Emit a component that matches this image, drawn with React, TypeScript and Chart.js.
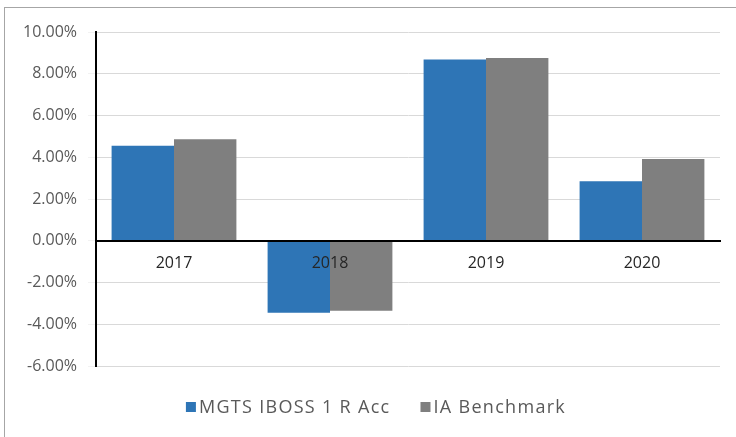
import React, { useEffect, useRef } from "react";
import { Chart, registerables } from "chart.js";

Chart.register(...registerables);

const categories = ["2017", "2018", "2019", "2020"];
const fundValues = [4.55, -3.45, 8.68, 2.85];
const benchmarkValues = [4.86, -3.35, 8.75, 3.92];
const seriesNames = ["MGTS IBOSS 1 R Acc", "IA Benchmark"];
const seriesColors = ["#2E75B6", "#7F7F7F"];
const yMin = -6;
const yMax = 10;
const yStep = 2;

const legendPlugin = {
  id: "customLegend",
  afterDraw(chart: any) {
    const ctx = chart.ctx;
    const ds = chart.data.datasets;
    ctx.save();
    ctx.font = "18px 'Open Sans'";
    (ctx as any).letterSpacing = "1.3px";
    ctx.textBaseline = "middle";
    const box = 10;
    const gapBox = 3;
    const gapItem = 30;
    const widths = ds.map((d: any) => box + gapBox + ctx.measureText(d.label).width);
    const total = widths.reduce((a: number, b: number) => a + b, 0) + gapItem * (ds.length - 1);
    let x = chart.width / 2 + 8 - total / 2;
    const y = 408;
    ds.forEach((d: any, i: number) => {
      ctx.fillStyle = d.backgroundColor;
      ctx.fillRect(x, y - box / 2 - 1, box, box);
      ctx.fillStyle = "#595959";
      ctx.textAlign = "left";
      ctx.fillText(d.label, x + box + gapBox, y);
      x += widths[i] + gapItem;
    });
    ctx.restore();
  },
};

export default function App() {
  const ref = useRef<HTMLCanvasElement | null>(null);
  useEffect(() => {
    if (!ref.current) return;
    const chart = new Chart(ref.current, {
      type: "bar",
      data: {
        labels: categories,
        datasets: [
          { label: seriesNames[0], data: fundValues, backgroundColor: seriesColors[0] },
          { label: seriesNames[1], data: benchmarkValues, backgroundColor: seriesColors[1] },
        ],
      },
      options: {
        animation: false,
        responsive: false,
        maintainAspectRatio: false,
        layout: { padding: { top: 32, right: 16, left: 0, bottom: 71 } },
        datasets: { bar: { categoryPercentage: 0.8, barPercentage: 1.0 } },
        plugins: { legend: { display: false }, tooltip: { enabled: false } },
        scales: {
          x: {
            position: { y: 0 } as any,
            grid: { display: false, drawTicks: false },
            border: { display: true, color: "#000000", width: 2, z: 1 },
            ticks: { z: 1, color: "#262626", font: { family: "'Open Sans'", size: 16 }, padding: 13 },
          },
          y: {
            min: yMin,
            max: yMax,
            afterFit(scale: any) {
              scale.width = 96;
            },
            ticks: {
              stepSize: yStep,
              color: "#595959",
              font: { family: "'Open Sans'", size: 16 },
              padding: 11,
              callback: (v: any) => Number(v).toFixed(2) + "%",
            },
            grid: { color: "#D9D9D9", lineWidth: 1, tickLength: 8, tickColor: "#F2F2F2" },
            border: { display: true, color: "#000000", width: 2 },
          },
        },
      },
      plugins: [legendPlugin],
    });
    return () => chart.destroy();
  }, []);
  return (
    <div style={{ position: "fixed", left: 0, top: 0, width: 736, height: 437, background: "#fff", overflow: "hidden" }}>
      <div
        style={{
          position: "absolute",
          left: 4,
          top: 7,
          width: 760,
          height: 460,
          border: "1px solid #A6A6A6",
        }}
      />
      <canvas ref={ref} width={736} height={437} style={{ position: "absolute", left: 0, top: 0 }} />
    </div>
  );
}
